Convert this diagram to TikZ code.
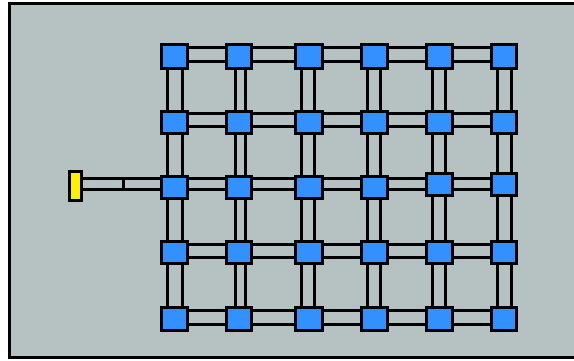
\documentclass[tikz,border=0pt]{standalone}
\usetikzlibrary{backgrounds}
\definecolor{panelgray}{HTML}{B5C2C1}
\definecolor{cellblue}{HTML}{3390FF}
\tikzset{
  cell/.style={draw=black,fill=cellblue,line width=3pt,inner sep=0pt,outer sep=0pt},
  plug/.style={cell,fill=yellow,minimum width=12pt,minimum height=29pt},
  tube/.style={draw=black,line width=3pt,double=panelgray,double distance=#1}
}
\begin{document}
\begin{tikzpicture}[x=1pt,y=-1pt]
\clip (0,0) rectangle (574,360);
% Centre lines of the tubes
\foreach \rname/\ry in {a/54,b/120,c/184,d/251,e/317}
  \coordinate (row\rname) at (0,\ry);
\foreach \cname/\cx in {1/175.3,2/240,3/307.5,4/373.5,5/439,6/504.8}
  \coordinate (col\cname) at (\cx,0);
% Grid of cells
\foreach \rname/\ry/\rh in {a/56/24,b/122/22,d/252.5/21.5,e/318.5/23}
  \foreach \cname/\cx/\cw in {1/174.7/26,2/239/25,3/308.5/27,4/374/26,5/439/26,6/503.5/25}
    \node[cell,minimum width=\cw pt,minimum height=\rh pt] (\rname\cname) at (\cx,\ry) {};
% Middle row, its last two cells sit higher
\foreach \cname/\cx/\cy/\cw in {1/174.7/187/26,2/239/187/25,3/308.5/187/27,4/374/187/26,5/439/184/26,6/503.5/184/25}
  \node[cell,minimum width=\cw pt,minimum height=22pt] (c\cname) at (\cx,\cy) {};
% Plug at the left
\node[plug] (plug) at (75.3,186) {};
\coordinate (joint) at (123,184);
\begin{scope}[on background layer]
\draw[line width=3pt,fill=panelgray] (9,3) rectangle (580,357);
% Horizontal tubes
\foreach \rname/\rd in {a/11pt,b/9.5pt,c/8.5pt,d/10.7pt,e/11pt}
  \foreach \cname/\dname in {1/2,2/3,3/4,4/5,5/6}
    \draw[tube=\rd] (\rname\cname |- row\rname) -- (\rname\dname |- row\rname);
% Vertical tubes
\foreach \rname/\sname in {a/b,b/c,c/d,d/e}
  \foreach \cname/\cd in {1/12pt,2/7pt,3/10pt,4/10pt,5/9.7pt,6/11.3pt}
    \draw[tube=\cd] (col\cname |- \rname\cname) -- (col\cname |- \sname\cname);
% Feed from the plug to the grid
\draw[tube=8.5pt] (plug |- joint) -- (joint);
\draw[tube=8.5pt] (joint) -- (c1 |- joint);
\end{scope}
\draw[line width=3pt] ([yshift=-6pt]joint) -- ([yshift=6pt]joint);
\end{tikzpicture}
\end{document}
